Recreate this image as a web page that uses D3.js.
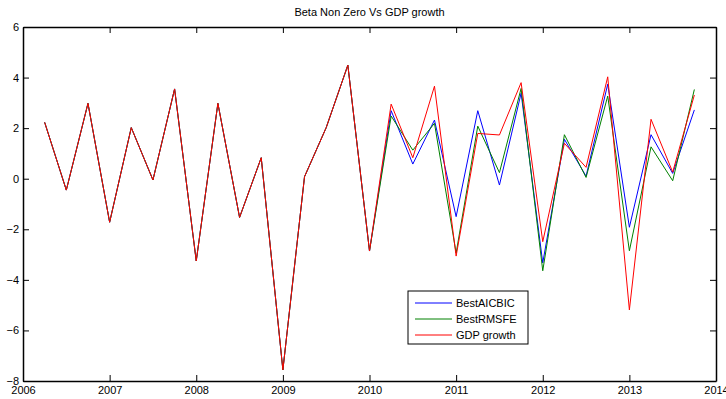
<!DOCTYPE html>
<meta charset="utf-8">
<script src="https://d3js.org/d3.v7.min.js"></script>
<style>
  body { margin: 0; background: #fff; }
  text { font-family: "Liberation Sans", Arial, sans-serif; font-size: 11px; fill: #000; }
</style>
<div id="my_dataviz"></div>
<script>

// quarters (decimal years) and the three series
var quarters = [2006.25, 2006.5, 2006.75, 2007.0, 2007.25, 2007.5, 2007.75, 2008.0,
                2008.25, 2008.5, 2008.75, 2009.0, 2009.25, 2009.5, 2009.75, 2010.0,
                2010.25, 2010.5, 2010.75, 2011.0, 2011.25, 2011.5, 2011.75, 2012.0,
                2012.25, 2012.5, 2012.75, 2013.0, 2013.25, 2013.5, 2013.75];

var bestAICBIC = [2.23, -0.45, 2.98, -1.72, 2.02, -0.05, 3.55, -3.25, 2.98, -1.53, 0.83, -7.56,
                  0.08, 2.02, 4.49, -2.86, 2.69, 0.58, 2.32, -1.5, 2.69, -0.25, 3.38, -3.33,
                  1.56, 0.1, 3.74, -1.92, 1.74, 0.21, 2.72];
var bestRMSFE  = [2.23, -0.45, 2.98, -1.72, 2.02, -0.05, 3.55, -3.25, 2.98, -1.53, 0.83, -7.56,
                  0.08, 2.02, 4.49, -2.86, 2.48, 1.13, 2.19, -2.94, 2.08, 0.24, 3.57, -3.64,
                  1.74, 0.05, 3.27, -2.85, 1.26, -0.08, 3.53];
var gdpGrowth  = [2.23, -0.45, 2.98, -1.72, 2.02, -0.05, 3.55, -3.25, 2.98, -1.53, 0.83, -7.56,
                  0.08, 2.02, 4.49, -2.86, 2.95, 0.83, 3.66, -3.06, 1.79, 1.73, 3.8, -2.49,
                  1.4, 0.45, 4.03, -5.19, 2.35, 0.26, 3.31];

var seriesNames = ["BestAICBIC", "BestRMSFE", "GDP growth"];
var seriesColors = ["#0000ff", "#008000", "#ff0000"];
var xTicks = [2006, 2007, 2008, 2009, 2010, 2011, 2012, 2013, 2014];
var yTicks = [-8, -6, -4, -2, 0, 2, 4, 6];

var margin = {top: 27, right: 10, bottom: 18, left: 23},
    width = 716 - margin.left,
    height = 381 - margin.top;

var svg = d3.select("#my_dataviz")
  .append("svg")
    .attr("width", 726)
    .attr("height", 399)
  .append("g")
    .attr("transform", "translate(" + margin.left + "," + margin.top + ")");

var x = d3.scaleLinear().domain([2006, 2014]).range([0, width]);
var y = d3.scaleLinear().domain([-8, 6]).range([height, 0]);

// title
svg.append("text")
  .attr("x", width / 2)
  .attr("y", -11)
  .attr("text-anchor", "middle")
  .text("Beta Non Zero Vs GDP growth");

// lines
var line = d3.line()
  .x(function(d, i) { return x(quarters[i]); })
  .y(function(d) { return y(d); });

[bestAICBIC, bestRMSFE, gdpGrowth].forEach(function(s, k) {
  svg.append("path")
    .datum(s)
    .attr("fill", "none")
    .attr("stroke", seriesColors[k])
    .attr("stroke-width", 1)
    .attr("d", line);
});

// axes, MATLAB style: inward ticks on all four sides
var tickLen = 6;
var xAxis = svg.append("g").attr("transform", "translate(0," + height + ")")
  .call(d3.axisBottom(x).tickValues(xTicks).tickFormat(d3.format("d")).tickSizeInner(-tickLen).tickSizeOuter(0).tickPadding(5));
var xTop = svg.append("g")
  .call(d3.axisTop(x).tickValues(xTicks).tickFormat("").tickSizeInner(-tickLen).tickSizeOuter(0));
var yAxis = svg.append("g")
  .call(d3.axisLeft(y).tickValues(yTicks).tickSizeInner(-tickLen).tickSizeOuter(0).tickPadding(4));
var yRight = svg.append("g").attr("transform", "translate(" + width + ",0)")
  .call(d3.axisRight(y).tickValues(yTicks).tickFormat("").tickSizeInner(-tickLen).tickSizeOuter(0));

[xAxis, xTop, yAxis, yRight].forEach(function(a) {
  a.selectAll(".domain").attr("stroke", "#000").attr("stroke-width", 1.5);
  a.selectAll(".tick line").attr("stroke", "#000");
  a.selectAll("text").style("font-size", "11px").attr("font-family", null);
});

// legend
var legend = svg.append("g").attr("transform", "translate(" + (408 - margin.left) + "," + (291 - margin.top) + ")");
legend.append("rect")
  .attr("width", 120).attr("height", 53)
  .attr("fill", "#fff").attr("stroke", "#000").attr("stroke-width", 1);
seriesNames.forEach(function(n, i) {
  var ly = 12 + i * 16;
  legend.append("line")
    .attr("x1", 7).attr("x2", 44).attr("y1", ly).attr("y2", ly)
    .attr("stroke", seriesColors[i]).attr("stroke-width", 1);
  legend.append("text")
    .attr("x", 48).attr("y", ly + 4)
    .text(n);
});

</script>
